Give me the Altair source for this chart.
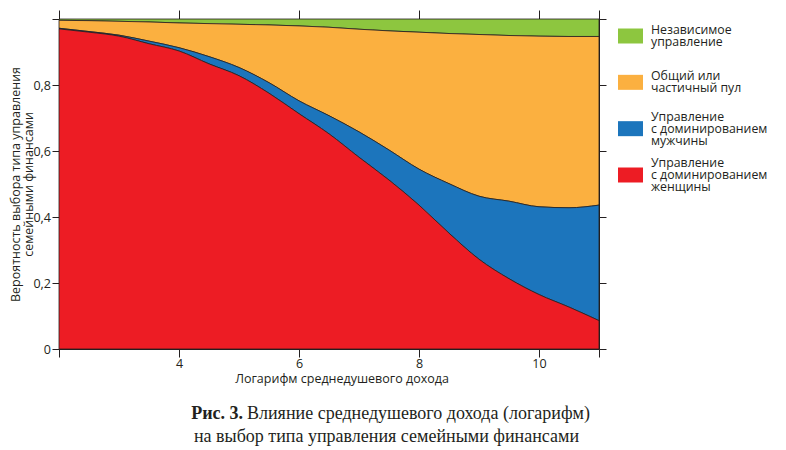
import altair as alt
import pandas as pd

# ---- data ----
x_vals = [2, 2.5, 3, 3.5, 4, 4.5, 5, 5.5, 6, 6.5, 7, 7.5, 8, 8.5, 9, 9.5, 10, 10.5, 11]

women = [0.970, 0.960, 0.948, 0.925, 0.903, 0.864, 0.828, 0.775, 0.713, 0.652,
         0.581, 0.512, 0.436, 0.351, 0.272, 0.213, 0.165, 0.127, 0.086]
men = [0.002, 0.002, 0.003, 0.008, 0.010, 0.022, 0.025, 0.032, 0.039, 0.055,
       0.077, 0.091, 0.109, 0.150, 0.191, 0.235, 0.266, 0.301, 0.350]
pool = [0.024, 0.033, 0.042, 0.058, 0.075, 0.100, 0.131, 0.175, 0.227, 0.268,
        0.311, 0.361, 0.415, 0.455, 0.490, 0.502, 0.517, 0.519, 0.511]
independent = [0.004, 0.005, 0.007, 0.009, 0.012, 0.014, 0.016, 0.018, 0.021, 0.025,
               0.031, 0.036, 0.040, 0.044, 0.047, 0.050, 0.052, 0.053, 0.053]

categories = [
    "Независимое\nуправление",
    "Общий или\nчастичный пул",
    "Управление\nс доминированием\nмужчины",
    "Управление\nс доминированием\nженщины",
]
colors = ["#8dc63f", "#fbb040", "#1c75bc", "#ed1c24"]
stack_order = [3, 2, 1, 0]
series = [independent, pool, men, women]

x_ticks = [2, 4, 6, 8, 10, 11]
y_ticks = [0, 0.2, 0.4, 0.6, 0.8, 1.0]

x_title = "Логарифм среднедушевого дохода"
y_title = ["Вероятность выбора типа управления", "семейными финансами"]
caption_bold = ["Рис. 3."]
caption_line1 = ["Влияние среднедушевого дохода (логарифм)"]
caption_line2 = ["на выбор типа управления семейными финансами"]

rows = []
for cat, ordv, vals in zip(categories, stack_order, series):
    for xv, v in zip(x_vals, vals):
        rows.append({"x": xv, "p": v, "cat": cat, "ord": ordv})
df = pd.DataFrame(rows)

INK = "#231f20"
xscale = alt.Scale(domain=[2, 11], nice=False, zero=False)
yscale = alt.Scale(domain=[0, 1], nice=False)
cscale = alt.Scale(domain=categories, range=colors)

area = alt.Chart(df).mark_area(
    stroke=INK, strokeWidth=0.8, interpolate="monotone", fillOpacity=1
).encode(
    x=alt.X("x:Q", scale=xscale, axis=alt.Axis(
        orient="bottom", values=x_ticks, tickSize=8, labelPadding=0,
        labelExpr="datum.value == 2 || datum.value == 11 ? '' : datum.label",
        title=x_title, titleX=282.5, titleY=33, titleBaseline="alphabetic",
        titleAlign="center")),
    y=alt.Y("p:Q", stack="zero", scale=yscale, axis=alt.Axis(
        orient="left", values=y_ticks, tickSize=7, labelPadding=1.5,
        labelExpr="datum.value == 0 ? '0' : (datum.value >= 1 ? '' : replace(format(datum.value, '.1f'), '.', ','))",
        title=y_title, titleX=-40, titleY=165, titleAngle=270,
        titleBaseline="alphabetic", titleAlign="center", titleLineHeight=13.5)),
    color=alt.Color("cat:N", scale=cscale, legend=None),
    order=alt.Order("ord:Q", sort="ascending"),
)

ghost = alt.Chart(df).mark_point(opacity=0).encode(
    x=alt.X("x:Q", scale=xscale, axis=alt.Axis(
        orient="top", values=x_ticks, labels=False, tickSize=9, title=None)),
    y=alt.Y("p:Q", scale=yscale, axis=alt.Axis(
        orient="right", values=y_ticks, labels=False, tickSize=7, title=None)),
)

leg_df = pd.DataFrame({"cat": categories})
leg_df2 = pd.DataFrame({"cat": categories[:2]})
leg_df3 = pd.DataFrame({"cat": categories[2:]})
leg_y = alt.Y("cat:N", scale=alt.Scale(type="point", domain=categories, range=[17, 156], padding=0),
              axis=None)

swatches = alt.Chart(leg_df).mark_point(
    shape="M-1.25,-0.75H1.25V0.75H-1.25Z", size=400, filled=True, opacity=1, strokeWidth=0
).encode(
    x=alt.value(571.5), y=leg_y,
    color=alt.Color("cat:N", scale=cscale, legend=None),
)

leg_text_style = dict(align="left", baseline="middle", lineBreak="\n", lineHeight=12,
                      fontSize=12.3, font="Open Sans", color=INK)
leg_labels2 = alt.Chart(leg_df2).mark_text(dy=-6, **leg_text_style).encode(
    x=alt.value(592), y=leg_y, text="cat:N")
leg_labels3 = alt.Chart(leg_df3).mark_text(dy=-12, **leg_text_style).encode(
    x=alt.value(592), y=leg_y, text="cat:N")

cap_b = alt.Chart(pd.DataFrame({"t": caption_bold})).mark_text(
    align="right", baseline="alphabetic", font="Liberation Serif", fontSize=18,
    fontWeight="bold", color=INK
).encode(x=alt.value(184), y=alt.value(400), text="t:N")

cap_1 = alt.Chart(pd.DataFrame({"t": caption_line1})).mark_text(
    align="left", baseline="alphabetic", font="Liberation Serif", fontSize=18, color=INK
).encode(x=alt.value(188), y=alt.value(400), text="t:N")

cap_2 = alt.Chart(pd.DataFrame({"t": caption_line2})).mark_text(
    align="center", baseline="alphabetic", font="Liberation Serif", fontSize=18, color=INK
).encode(x=alt.value(327.5), y=alt.value(423), text="t:N")

chart = alt.layer(area, ghost, swatches, leg_labels2, leg_labels3, cap_b, cap_1, cap_2).resolve_scale(
    y="independent"
).resolve_axis(
    x="independent"
).properties(
    width=540, height=330,
    autosize=alt.AutoSizeParams(type="none"),
    padding={"left": 51, "top": 11, "right": 178, "bottom": 97},
).configure_view(
    stroke=None
).configure_axis(
    grid=False, domainColor=INK, domainWidth=1, tickColor=INK, tickWidth=1,
    labelColor=INK, labelFont="Open Sans", labelFontSize=12.5,
    titleColor=INK, titleFont="Open Sans", titleFontSize=12.5, titleFontWeight="normal",
)

chart.save("out.html", embed_options={"renderer": "svg", "actions": False})
